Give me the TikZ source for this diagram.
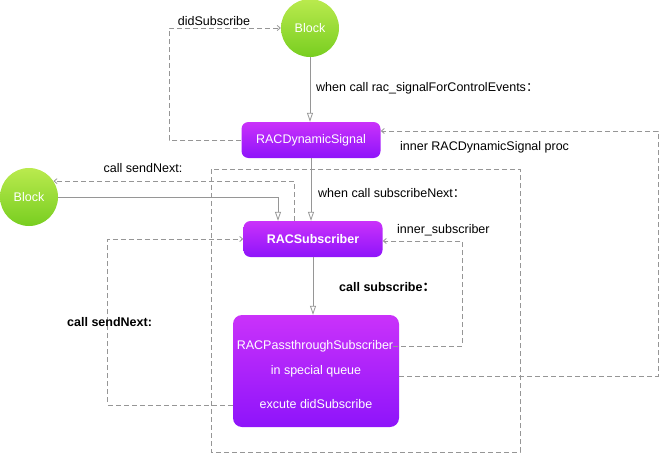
\documentclass[tikz,border=0pt]{standalone}
\usepackage{fontspec}
\setmainfont{Liberation Sans}
\newfontfamily\cjk{Noto Sans CJK SC}
\usetikzlibrary{arrows.meta,calc}
\definecolor{linegray}{RGB}{150,150,150}
\definecolor{greentop}{RGB}{186,234,78}
\definecolor{greenbot}{RGB}{120,206,32}
\definecolor{purptop}{RGB}{202,50,250}
\definecolor{purpbot}{RGB}{142,20,250}
\newcommand{\wcolon}{{\cjk ：}}

\begin{document}
\begin{tikzpicture}[x=1pt,y=-1pt,font=\fontsize{12.5}{15}\selectfont,
  block/.style={circle,minimum size=58pt,inner sep=0pt,top color=greentop,bottom color=greenbot,text=white},
  racbox/.style={rounded corners=7pt,top color=purptop,bottom color=purpbot,text=white,minimum width=139pt,minimum height=36pt,inner sep=0pt},
  boxtext/.style={text=white,inner sep=0pt},
  flow/.style={draw=linegray,line width=0.8pt,-{Triangle[open,length=9pt,width=6pt]}},
  dashflow/.style={draw=linegray,line width=0.8pt,dash pattern=on 5pt off 3pt,-{Straight Barb[length=3pt,width=5pt]}},
  frame/.style={draw=linegray,line width=0.8pt,dash pattern=on 5pt off 3pt},
  lbl/.style={inner sep=0pt}]
\useasboundingbox (0,0) rectangle (662,455);

% outer frame
\draw[frame] (211,169) rectangle (520,452);

% nodes
\node[block] (topblock) at (310,28) {Block};
\node[racbox] (sig) at (311,140) {RACDynamicSignal};
\node[block] (lblock) at (29,197) {Block};
\node[racbox] (sub) at (313,239) {\bfseries RACSubscriber};
\node[racbox,minimum width=166pt,minimum height=112pt,rounded corners=9pt] (pass) at (316,371) {};
\node[boxtext] (ptitle) at (315,346) {RACPassthroughSubscriber};
\node[boxtext] (pqueue) at (316,371) {in special queue};
\node[boxtext] (pexec) at (316,404) {excute didSubscribe};

% solid connectors
\draw[flow] (topblock.south) -- (topblock.south |- sig.north);
\draw[flow] (sig.south) -- (sig.south |- sub.north);
\draw[flow] (sub.south) -- (sub.south |- pass.north);
\draw[flow] (lblock.east) -| ($(sub.north)+(-35,0)$);

% dashed connectors
\draw[dashflow] (sig.west) -- ++(-72,0) |- (topblock.west);
\draw[dashflow] ($(sub.north)+(-19,0)$) |- (lblock.33);
\draw[dashflow] ($(pass.west)+(0,34)$) -- ++(-125,0) |- (sub.west);
\draw[dashflow] (ptitle.east) -- ++(69,0) |- ($(sub.east)+(0,2)$);
\draw[dashflow] ($(pass.east)+(0,5)$) -- ++(259,0) |- ($(sig.east)+(0,-9)$);

% labels
\node[lbl] (ldid) at (214,21) {didSubscribe};
\node[lbl,anchor=west] (lrac) at (316,88) {when call rac\_signalForControlEvents\wcolon};
\node[lbl,anchor=west] (lproc) at (400,147) {inner RACDynamicSignal proc};
\node[lbl] (lsend) at (143,168) {call sendNext:};
\node[lbl,anchor=west] (lnext) at (318,193) {when call subscribeNext\wcolon};
\node[lbl,anchor=west] (linner) at (397,230) {inner\_subscriber};
\node[lbl,anchor=west] (lsubs) at (339,287) {\bfseries call subscribe\wcolon};
\node[lbl,anchor=west] (lsendb) at (67,322) {\bfseries call sendNext:};
\end{tikzpicture}
\end{document}
